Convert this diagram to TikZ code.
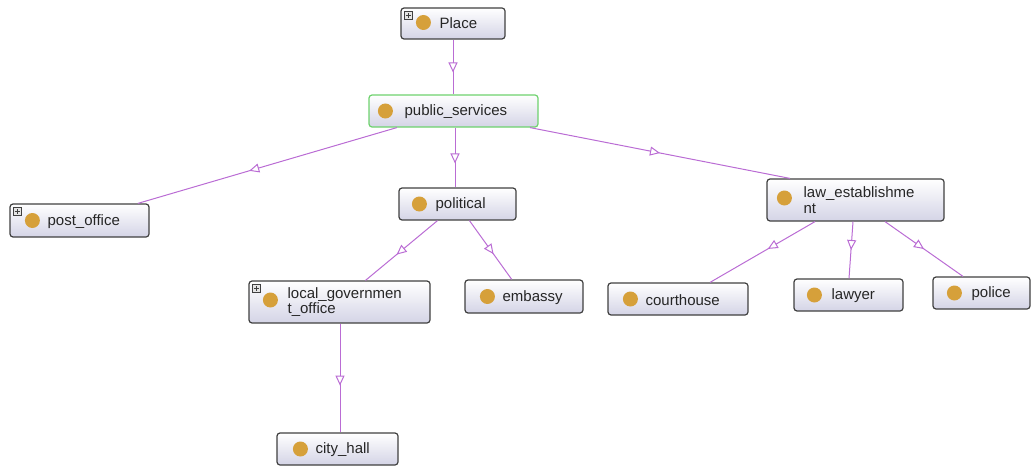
\documentclass[tikz,border=0pt]{standalone}
\usepackage{fontspec}
\setmainfont{Liberation Sans}
\usetikzlibrary{arrows.meta,decorations.markings}

\definecolor{edgeviolet}{RGB}{186,108,212}
\definecolor{dotgold}{RGB}{214,160,58}
\definecolor{boxline}{RGB}{64,64,64}
\definecolor{boxlow}{RGB}{212,212,230}
\definecolor{selgreen}{RGB}{110,210,110}

\tikzset{
  classbox/.style={draw=boxline, line width=1.2pt, rounded corners=3pt,
    top color=white, bottom color=boxlow, inner sep=0pt},
  selbox/.style={classbox, draw=selgreen},
  dotmark/.style={circle, fill=dotgold, minimum size=15pt, inner sep=0pt},
  classlabel/.style={anchor=west, inner sep=0pt, align=left,
    font=\fontsize{15}{15.5}\selectfont, text=black!85},
  plusbox/.style={draw=boxline, fill=gray!20, minimum size=8pt, inner sep=0pt,
    line width=0.6pt,
    path picture={
      \draw[line width=0.8pt] ([xshift=-2.5pt]path picture bounding box.center)
        -- ([xshift=2.5pt]path picture bounding box.center);
      \draw[line width=0.8pt] ([yshift=-2.5pt]path picture bounding box.center)
        -- ([yshift=2.5pt]path picture bounding box.center);}},
  isa/.style={draw=edgeviolet, line width=1pt,
    decoration={markings, mark=at position #1 with
      {\arrow{Triangle[length=10pt,width=9pt,fill=white,line width=1pt]}}},
    postaction={decorate}},
  isa/.default=0.57
}

\begin{document}
\begin{tikzpicture}[x=1pt,y=-1pt]
  \useasboundingbox (0,0) rectangle (1032,468);

  % class boxes
  \node[classbox, minimum width=104pt, minimum height=31pt] (place) at (453,23.5) {};
  \node[selbox, minimum width=169pt, minimum height=32pt] (ps) at (453.5,111) {};
  \node[classbox, minimum width=139pt, minimum height=33pt] (po) at (79.5,220.5) {};
  \node[classbox, minimum width=117pt, minimum height=32pt] (pol) at (457.5,204) {};
  \node[classbox, minimum width=177pt, minimum height=42pt] (law) at (855.5,200) {};
  \node[classbox, minimum width=181pt, minimum height=42pt] (lgo) at (339.5,302) {};
  \node[classbox, minimum width=118pt, minimum height=33pt] (emb) at (524,296.5) {};
  \node[classbox, minimum width=140pt, minimum height=32pt] (court) at (678,299) {};
  \node[classbox, minimum width=109pt, minimum height=32pt] (lawyer) at (848.5,295) {};
  \node[classbox, minimum width=97pt, minimum height=32pt] (police) at (981.5,293) {};
  \node[classbox, minimum width=121pt, minimum height=32pt] (city) at (337.5,449) {};

  % class icons and names
  \node[dotmark] (place-dot) at ([xshift=23pt,yshift=1pt]place.west) {};
  \node[classlabel] (place-text) at ([xshift=39pt]place.west) {Place};
  \node[dotmark] (ps-dot) at ([xshift=17pt]ps.west) {};
  \node[classlabel] (ps-text) at ([xshift=36pt,yshift=-1pt]ps.west) {public\_services};
  \node[dotmark] (po-dot) at ([xshift=23pt]po.west) {};
  \node[classlabel] (po-text) at ([xshift=38pt,yshift=-1pt]po.west) {post\_office};
  \node[dotmark] (pol-dot) at ([xshift=21pt]pol.west) {};
  \node[classlabel] (pol-text) at ([xshift=37pt,yshift=-1pt]pol.west) {political};
  \node[dotmark] (law-dot) at ([xshift=18pt,yshift=2pt]law.west) {};
  \node[classlabel] (law-text) at ([xshift=37pt]law.west) {law\_establishme\\nt};
  \node[dotmark] (lgo-dot) at ([xshift=22pt,yshift=2pt]lgo.west) {};
  \node[classlabel] (lgo-text) at ([xshift=39pt]lgo.west) {local\_governmen\\t\_office};
  \node[dotmark] (emb-dot) at ([xshift=23pt]emb.west) {};
  \node[classlabel] (emb-text) at ([xshift=38pt,yshift=-1pt]emb.west) {embassy};
  \node[dotmark] (court-dot) at ([xshift=23pt]court.west) {};
  \node[classlabel] (court-text) at ([xshift=38pt,yshift=-1pt]court.west) {courthouse};
  \node[dotmark] (lawyer-dot) at ([xshift=21pt]lawyer.west) {};
  \node[classlabel] (lawyer-text) at ([xshift=38pt,yshift=-1pt]lawyer.west) {lawyer};
  \node[dotmark] (police-dot) at ([xshift=22pt]police.west) {};
  \node[classlabel] (police-text) at ([xshift=39pt,yshift=-1pt]police.west) {police};
  \node[dotmark] (city-dot) at ([xshift=24pt]city.west) {};
  \node[classlabel] (city-text) at ([xshift=39pt,yshift=-1pt]city.west) {city\_hall};

  % expand markers on classes with hidden subclasses
  \node[plusbox] (place-plus) at ([xshift=8pt,yshift=-8pt]place.north west) {};
  \node[plusbox] (po-plus) at ([xshift=8pt,yshift=-8pt]po.north west) {};
  \node[plusbox] (lgo-plus) at ([xshift=8pt,yshift=-8pt]lgo.north west) {};

  % subclass links
  \draw[isa=0.6] (place.south) -- ([xshift=-0.5pt]ps.north);
  \draw[isa] (ps) -- (po);
  \draw[isa=0.6] ([xshift=1.5pt]ps.south) -- ([xshift=-2.5pt]pol.north);
  \draw[isa=0.5] ([xshift=76.5pt]ps.south) -- ([xshift=-65.5pt]law.north);
  \draw[isa] (pol) -- (lgo);
  \draw[isa] (pol) -- (emb);
  \draw[isa] ([xshift=0.5pt]lgo.south) -- ([xshift=2.5pt]city.north);
  \draw[isa=0.45] ([xshift=-40.5pt]law.south) -- ([xshift=32pt]court.north);
  \draw[isa=0.5] ([xshift=-2.5pt]law.south) -- ([xshift=0.5pt]lawyer.north);
  \draw[isa=0.5] ([xshift=29.5pt]law.south) -- ([xshift=-18.5pt]police.north);
\end{tikzpicture}
\end{document}
